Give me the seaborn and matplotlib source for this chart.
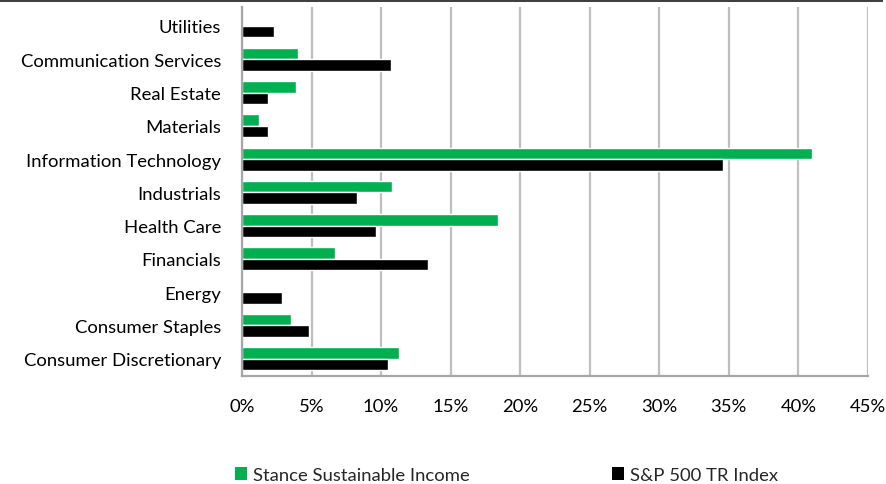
import matplotlib
matplotlib.use("Agg")
import matplotlib.pyplot as plt
import seaborn as sns
import pandas as pd
from matplotlib.patches import Patch, Rectangle

sectors = ["Utilities", "Communication Services", "Real Estate", "Materials",
           "Information Technology", "Industrials", "Health Care", "Financials",
           "Energy", "Consumer Staples", "Consumer Discretionary"]
stance = [0.0, 4.05, 3.85, 1.2, 41.0, 10.75, 18.4, 6.7, 0.0, 3.5, 11.3]
sp500 = [2.3, 10.7, 1.9, 1.9, 34.6, 8.25, 9.6, 13.4, 2.9, 4.8, 10.5]
series_names = ["Stance Sustainable Income", "S&P 500 TR Index"]
xticks = [0, 5, 10, 15, 20, 25, 30, 35, 40, 45]

df = pd.DataFrame({
    "Sector": sectors * 2,
    "Weight": stance + sp500,
    "Series": [series_names[0]] * len(sectors) + [series_names[1]] * len(sectors),
})

sns.set_theme(style="white")
plt.rcParams["font.family"] = ["Lato", "DejaVu Sans"]
FS = 13.3

fig = plt.figure(figsize=(8.87, 4.85), dpi=100)
ax = fig.add_axes([242 / 887, 1 - 377 / 485, (868 - 242) / 887, (377 - 8) / 485])

colors = {series_names[0]: "#00B050", series_names[1]: "#000000"}
sns.barplot(data=df, y="Sector", x="Weight", hue="Series", order=sectors,
            hue_order=series_names, palette=colors, orient="h", width=0.69,
            gap=0, ax=ax, legend=False, saturation=1)

ax.set_xlim(0, 45)
ax.set_ylim(10.52, -0.57)
ax.set_xticks(xticks)
ax.set_xticklabels([f"{t}%" for t in xticks])
ax.set_xlabel("")
ax.set_ylabel("")
ax.xaxis.grid(True, color="#BFBFBF", linewidth=1.6)
ax.yaxis.grid(False)
ax.set_axisbelow(True)
for s in ["top", "right"]:
    ax.spines[s].set_visible(False)
for s in ["left", "bottom"]:
    ax.spines[s].set_color("#A6A6A6")
    ax.spines[s].set_linewidth(1.6)
ax.tick_params(axis="y", length=0, pad=15, labelsize=FS, colors="#000000")
ax.tick_params(axis="x", length=0, pad=16, labelsize=FS, colors="#000000")

for name, xleft in zip(series_names, [235, 612]):
    fig.legend([Patch(facecolor=colors[name], edgecolor="none")], [name],
               loc="center left", bbox_to_anchor=(xleft / 887, 1 - 476 / 485),
               frameon=False, fontsize=FS, handlelength=0.65, handleheight=0.65,
               handletextpad=0.3, borderpad=0, borderaxespad=0)

fig.add_artist(Rectangle((0, 1 - 3 / 485), 883 / 887, 3 / 485, transform=fig.transFigure,
                         facecolor="#404040", edgecolor="none"))

fig.savefig("out.png", dpi=100)
